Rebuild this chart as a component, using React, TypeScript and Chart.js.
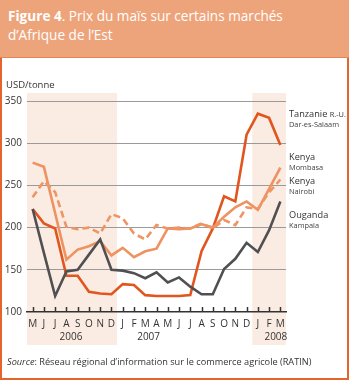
import React, { useEffect, useRef } from "react";
import { Chart, registerables } from "chart.js";
Chart.register(...registerables);

const months = ["M","J","J","A","S","O","N","D","J","F","M","A","M","J","J","A","S","O","N","D","J","F","M"];
const years = ["2006", "2007", "2008"];
const yearCenters = [3.4, 10.3, 21.6];
const shadedSpans = [[-0.5, 7.5], [19.5, 22.5]];
const yTicks = [100, 150, 200, 250, 300, 350];

const tanzania = [222, 205, 199, 143, 143, 124, 122, 121, 133, 132, 120, 119, 119, 119, 120, 172, 199, 237, 231, 310, 335, 330, 298];
const kenyaMombasa = [277, 272, 217, 162, 174, 178, 184, 167, 176, 165, 172, 175, 199, 198, 199, 204, 200, 213, 224, 231, 221, 246, 271];
const kenyaNairobi = [236, 255, 242, 201, 198, 200, 193, 216, 211, 193, 186, 203, 199, 200, 199, 205, 199, 209, 203, 224, 222, 242, 257];
const uganda = [222, 170, 119, 148, 150, 168, 186, 150, 149, 146, 140, 147, 135, 141, 130, 121, 121, 151, 163, 182, 171, 197, 231];

const FONT = "'Open Sans', 'Noto Sans', sans-serif";
const TEXT = "#333333";

const toPoints = (arr: number[]) => arr.map((v, i) => ({ x: i, y: v }));

const decor = {
  id: "decor",
  beforeDraw(chart: any) {
    const { ctx, chartArea, scales } = chart;
    const x = scales.x;
    ctx.save();
    ctx.fillStyle = "#FBECE3";
    for (const [a, b] of shadedSpans) {
      const x0 = x.getPixelForValue(a);
      const x1 = x.getPixelForValue(b);
      const top = chartArea.top - 8;
      const bottom = chartArea.bottom + 33;
      ctx.fillRect(x0, top, x1 - x0, bottom - top);
    }
    ctx.restore();
  },
  afterDraw(chart: any) {
    const { ctx, chartArea, scales } = chart;
    const x = scales.x;
    ctx.save();
    ctx.strokeStyle = TEXT;
    ctx.lineWidth = 1.5;
    months.forEach((_, i) => {
      const px = Math.round(x.getPixelForValue(i)) + 0.5;
      ctx.beginPath();
      ctx.moveTo(px, chartArea.bottom - 5);
      ctx.lineTo(px, chartArea.bottom);
      ctx.stroke();
    });
    ctx.fillStyle = TEXT;
    ctx.font = `10px ${FONT}`;
    ctx.textAlign = "center";
    ctx.textBaseline = "middle";
    years.forEach((y, i) => {
      ctx.fillText(y, x.getPixelForValue(yearCenters[i]), chartArea.bottom + 25);
    });
    ctx.restore();
  },
};

function LineChart() {
  const ref = useRef<HTMLCanvasElement | null>(null);
  useEffect(() => {
    if (!ref.current) return;
    const line = (label: string, data: number[], color: string, dash: number[] = []) => ({
      label,
      data: toPoints(data),
      borderColor: color,
      backgroundColor: color,
      borderWidth: 2.6,
      borderDash: dash,
      pointRadius: 0,
      tension: 0,
      fill: false,
    });
    const chart = new Chart(ref.current, {
      type: "line",
      data: {
        datasets: [
          line("Ouganda Kampala", uganda, "#505052"),
          line("Kenya Nairobi", kenyaNairobi, "#EE9563", [7, 4]),
          line("Kenya Mombasa", kenyaMombasa, "#EE9262"),
          line("Tanzanie R.-U. Dar-es-Salaam", tanzania, "#E0561E"),
        ],
      },
      options: {
        animation: false,
        responsive: false,
        devicePixelRatio: 1,
        layout: { padding: { top: 101, right: 64, bottom: 38, left: 0 } },
        plugins: { legend: { display: false }, tooltip: { enabled: false } },
        scales: {
          x: {
            type: "linear",
            min: -0.5,
            max: 22.5,
            afterBuildTicks: (s: any) => {
              s.ticks = months.map((_, i) => ({ value: i }));
            },
            afterFit: (s: any) => {
              s.height = 30;
            },
            grid: { display: false, drawTicks: false },
            border: { display: true, color: TEXT, width: 1.5 },
            ticks: {
              autoSkip: false,
              maxRotation: 0,
              padding: 6,
              color: TEXT,
              font: { family: FONT, size: 10 },
              callback: (v: any) => months[v as number] ?? "",
            },
          },
          y: {
            min: 100,
            max: 350,
            afterBuildTicks: (s: any) => {
              s.ticks = yTicks.map((v) => ({ value: v }));
            },
            afterFit: (s: any) => {
              s.width = 27;
            },
            grid: {
              drawTicks: false,
              color: (c: any) => (c.tick && c.tick.value === 100 ? "rgba(0,0,0,0)" : "#9A9A9A"),
              lineWidth: 1,
            },
            border: { display: false },
            ticks: {
              padding: 5,
              color: TEXT,
              font: { family: FONT, size: 10 },
            },
          },
        },
      },
      plugins: [decor],
    } as any);
    return () => chart.destroy();
  }, []);
  return <canvas ref={ref} width={350} height={380} style={{ position: "absolute", left: 0, top: 0, width: 350, height: 380 }} />;
}

const labelMain: React.CSSProperties = { position: "absolute", left: 289, fontSize: 9.2, color: TEXT, fontFamily: FONT, lineHeight: "11px", whiteSpace: "nowrap" };
const labelSub: React.CSSProperties = { ...labelMain, fontSize: 7.4, color: "#444" };

export default function App() {
  useEffect(() => {
    document.body.style.margin = "0";
  }, []);
  return (
    <div style={{ position: "absolute", left: 0, top: 0, width: 350, height: 380, background: "#fff", fontFamily: FONT }}>
      <LineChart />
      <div style={{ position: "absolute", left: 0, top: 0, width: 349, height: 380, boxSizing: "border-box", borderLeft: "2px solid #E3642F", borderRight: "2px solid #E3642F", borderBottom: "2px solid #E3642F", pointerEvents: "none" }} />
      <div style={{ position: "absolute", left: 0, top: 0, width: 349, height: 57, background: "#EEA47B", borderBottom: "1px solid #E58556" }}>
        <div style={{ position: "absolute", left: 8, top: 6, color: "#fff", fontSize: 13.6, lineHeight: "19px", whiteSpace: "nowrap" }}>
          <b>Figure 4</b>. Prix du maïs sur certains marchés
          <br />d’Afrique de l’Est
        </div>
      </div>
      <div style={{ position: "absolute", left: 6, top: 78, fontSize: 9.5, color: TEXT, whiteSpace: "nowrap" }}>USD/tonne</div>
      <div style={{ ...labelMain, top: 108 }}>Tanzanie <span style={{ fontSize: 7.4 }}>R.-U.</span></div>
      <div style={{ ...labelSub, top: 119 }}>Dar-es-Salaam</div>
      <div style={{ ...labelMain, top: 151 }}>Kenya</div>
      <div style={{ ...labelSub, top: 162 }}>Mombasa</div>
      <div style={{ ...labelMain, top: 175 }}>Kenya</div>
      <div style={{ ...labelSub, top: 186 }}>Nairobi</div>
      <div style={{ ...labelMain, top: 209 }}>Ouganda</div>
      <div style={{ ...labelSub, top: 220 }}>Kampala</div>
      <div style={{ position: "absolute", left: 7, top: 355, fontSize: 9.2, color: TEXT, whiteSpace: "nowrap" }}>
        <i>Source</i>: Réseau régional d’information sur le commerce agricole (RATIN)
      </div>
    </div>
  );
}
